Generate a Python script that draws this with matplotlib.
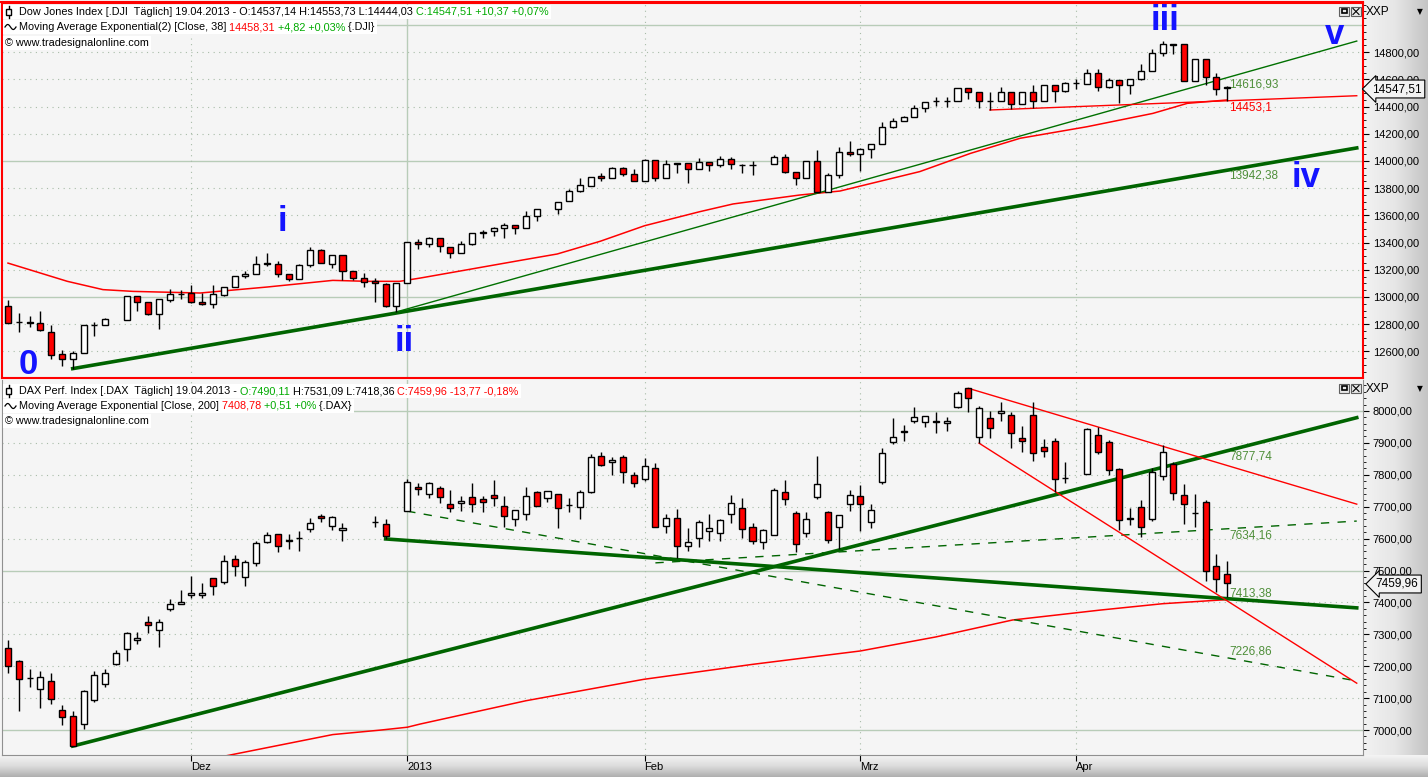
import numpy as np
import pandas as pd
import matplotlib
matplotlib.use("Agg")
import matplotlib.pyplot as plt
from matplotlib.ticker import MultipleLocator, FuncFormatter
from matplotlib.patches import Rectangle
from matplotlib.transforms import Bbox

plt.rcParams['font.family'] = ['Liberation Sans', 'DejaVu Sans']

W, H = 1428, 777

# ---------------- data
# union of trading days (both exchanges closed: Dec 25, Jan 1, Good Friday)
dates = pd.bdate_range('2012-11-08', '2013-04-19')
dates = dates.drop(pd.to_datetime(['2012-12-25', '2013-01-01', '2013-03-29']))
month_labels = ['Dez', '2013', 'Feb', 'Mrz', 'Apr']

N = None
dji_o = [12932, 12815, 12815, 12810, 12744, 12578, 12546, 12590, 12795, 12797,
         N, 12829, 13005, 12963, 12876, 12980, 13022, 13029, 12963, 12949,
         13017, 13073, 13151, 13171, 13248, 13241, 13168, 13132, 13232, 13346,
         13241, 13310, 13193, 13139, 13115, 13095, 12932, 13102, 13407, 13387,
         13431, 13370, 13326, 13387, 13468, 13485, 13505, 13529, 13505, 13596,
         N, 13645, 13708, 13779, 13818, 13890, 13873, 13946, 13902, 13855,
         14007, 13873, 13983, 13983, 13939, 13990, 13968, 14012, 13971, 13971,
         N, 13975, 14027, 13922, 13873, 14000, 13775, 13897, 14069, 14049,
         14086, 14123, 14248, 14294, 14321, 14387, 14444, 14441, 14444, 14534,
         14505, 14441, 14444, 14505, 14417, 14505, 14441, 14559, 14517, 14571,
         14564, 14650, 14542, 14596, 14559, 14603, 14664, 14792, 14858, 14858,
         14591, 14748, 14615, 14537.14]
dji_h = [12980, 12883, 12858, 12900, 12797, 12607, 12602, 12795, 12815, 12845,
         N, 13005, 13005, 12963, 12985, 13058, 13054, 13090, 13029, 13090,
         13073, 13151, 13188, 13302, 13327, 13266, 13168, 13244, 13364, 13354,
         13310, 13310, 13193, 13176, 13139, 13102, 13102, 13407, 13426, 13444,
         13431, 13370, 13412, 13470, 13493, 13517, 13542, 13529, 13632, 13645,
         N, 13701, 13792, 13873, 13885, 13909, 13958, 13958, 13939, 14014,
         14007, 14007, 13983, 13983, 14020, 13990, 14037, 14027, 13978, 14000,
         N, 14044, 14049, 13922, 14000, 14081, 13909, 14105, 14147, 14098,
         14123, 14284, 14314, 14331, 14412, 14436, 14473, 14468, 14534, 14534,
         14505, 14510, 14542, 14505, 14510, 14559, 14559, 14559, 14583, 14600,
         14676, 14676, 14608, 14596, 14603, 14711, 14821, 14882, 14858, 14858,
         14748, 14748, 14645, 14553.73]
dji_l = [12810, 12744, 12778, 12749, 12546, 12492, 12473, 12590, 12712, 12795,
         N, 12829, 12895, 12868, 12766, 12963, 12985, 12956, 12944, 12919,
         13010, 13073, 13139, 13171, 13229, 13146, 13115, 13132, 13224, 13249,
         13212, 13122, 13127, 13073, 12961, 12927, 12890, 13102, 13350, 13370,
         13333, 13289, 13321, 13382, 13431, 13451, 13436, 13461, 13505, 13561,
         N, 13613, 13708, 13775, 13818, 13855, 13873, 13892, 13855, 13855,
         13855, 13873, 13910, 13841, 13939, 13929, 13958, 13939, 13914, 13897,
         N, 13975, 13914, 13824, 13873, 13775, 13775, 13873, 14039, 13929,
         14025, 14123, 14240, 14294, 14321, 14363, 14404, 14400, 14444, 14456,
         14392, 14375, 14444, 14380, 14417, 14387, 14441, 14431, 14510, 14530,
         14564, 14517, 14534, 14429, 14490, 14596, 14664, 14775, 14784, 14591,
         14591, 14559, 14485, 14444.03]
dji_c = [12810, 12818, 12812, 12756, 12573, 12546, 12590, 12795, 12792, 12839,
         N, 13005, 12963, 12876, 12985, 13022, 13025, 12963, 12949, 13024,
         13073, 13151, 13171, 13241, 13245, 13171, 13132, 13237, 13346, 13249,
         13310, 13190, 13139, 13110, 13102, 12932, 13102, 13407, 13387, 13431,
         13377, 13321, 13387, 13468, 13480, 13505, 13529, 13505, 13596, 13645,
         N, 13701, 13779, 13824, 13885, 13873, 13946, 13902, 13855, 14007,
         13873, 13976, 13975, 13939, 13990, 13968, 14012, 13975, 13969, 13969,
         N, 14027, 13922, 13873, 14000, 13775, 13897, 14069, 14049, 14088,
         14123, 14248, 14294, 14321, 14387, 14436, 14441, 14444, 14534, 14505,
         14444, 14444, 14510, 14417, 14510, 14441, 14559, 14517, 14571, 14573,
         14650, 14542, 14596, 14559, 14603, 14664, 14792, 14858, 14855, 14591,
         14748, 14615, 14527, 14547.51]

dax_o = [7258, 7217, 7164, 7130, 7153, 7063, 7044, 7018, 7094, 7146,
         7208, 7255, 7283, 7339, 7315, 7380, 7396, 7424, 7424, 7477,
         7464, 7536, 7479, 7524, 7589, 7615, 7594, 7601, 7630, 7670,
         7639, 7627, N, N, 7651, 7646, N, 7685, 7761, 7739,
         7758, 7709, 7711, 7730, 7724, 7737, 7703, 7661, 7678, 7746,
         7727, 7739, 7704, 7698, 7745, 7858, 7840, 7855, 7800, 7787,
         7821, 7641, 7664, 7578, 7603, 7625, 7617, 7676, 7695, 7636,
         7589, 7610, 7746, 7680, 7617, 7730, 7682, 7637, 7710, 7733,
         7651, 7776, 7904, 7935, 7967, 7964, 7967, 7961, 8011, 8071,
         7919, 7977, 7993, 7987, 7914, 7987, 7886, 7906, 7791, N,
         7804, 7925, 7902, 7817, 7666, 7700, 7660, 7797, 7834, 7738,
         7679, 7715, 7515, 7490.11]
dax_h = [7283, 7221, 7193, 7184, 7180, 7078, 7060, 7127, 7184, 7193,
         7250, 7308, 7308, 7359, 7349, 7411, 7440, 7484, 7461, 7477,
         7550, 7549, 7533, 7591, 7622, 7615, 7615, 7625, 7665, 7677,
         7672, 7649, N, N, 7672, 7661, N, 7786, 7774, 7776,
         7765, 7753, 7734, 7774, 7734, 7784, 7734, 7689, 7763, 7750,
         7750, 7739, 7727, 7753, 7866, 7871, 7855, 7863, 7810, 7852,
         7837, 7676, 7692, 7633, 7659, 7677, 7662, 7737, 7727, 7648,
         7630, 7760, 7784, 7687, 7682, 7860, 7685, 7674, 7752, 7768,
         7708, 7883, 7979, 7956, 8012, 7984, 7996, 7982, 8061, 8071,
         8017, 8000, 8027, 7996, 7953, 8027, 7911, 7914, 7839, N,
         7946, 7951, 7909, 7822, 7695, 7721, 7820, 7893, 7841, 7771,
         7740, 7721, 7553, 7531.09]
dax_l = [7180, 7060, 7135, 7070, 7083, 7016, 6950, 7005, 7089, 7135,
         7203, 7217, 7271, 7304, 7260, 7373, 7394, 7415, 7414, 7422,
         7458, 7482, 7451, 7514, 7585, 7557, 7566, 7560, 7620, 7651,
         7628, 7592, N, N, 7635, 7599, N, 7685, 7737, 7727,
         7711, 7682, 7685, 7682, 7682, 7703, 7636, 7641, 7659, 7701,
         7716, 7632, 7682, 7661, 7742, 7829, 7798, 7774, 7763, 7782,
         7636, 7617, 7538, 7562, 7575, 7594, 7591, 7648, 7603, 7583,
         7567, 7610, 7706, 7557, 7604, 7724, 7587, 7569, 7687, 7624,
         7634, 7770, 7895, 7907, 7961, 7951, 7932, 7938, 8008, 7996,
         7899, 7916, 7970, 7885, 7872, 7844, 7857, 7747, 7775, N,
         7804, 7865, 7799, 7627, 7642, 7606, 7656, 7783, 7721, 7645,
         7637, 7468, 7433, 7418.36]
dax_c = [7201, 7161, 7162, 7165, 7099, 7040, 6950, 7122, 7172, 7180,
         7243, 7305, 7290, 7330, 7339, 7396, 7401, 7430, 7430, 7451,
         7531, 7514, 7528, 7586, 7611, 7576, 7596, 7603, 7649, 7665,
         7669, 7633, N, N, 7653, 7607, N, 7776, 7755, 7774,
         7730, 7695, 7717, 7708, 7714, 7727, 7672, 7689, 7734, 7701,
         7750, 7695, 7706, 7745, 7855, 7831, 7847, 7808, 7774, 7829,
         7636, 7664, 7578, 7588, 7651, 7632, 7659, 7711, 7629, 7591,
         7627, 7753, 7725, 7582, 7661, 7772, 7596, 7674, 7738, 7707,
         7689, 7867, 7917, 7937, 7982, 7984, 7965, 7969, 8055, 8040,
         8008, 7946, 8000, 7930, 7907, 7867, 7876, 7786, 7790, N,
         7942, 7872, 7815, 7658, 7660, 7635, 7808, 7870, 7742, 7710,
         7680, 7499, 7472, 7459.96]

# moving averages (bar index, value)
dji_ema_x = [0, 5.5, 8.8, 11.6, 17.8, 24, 30.1, 33.3, 36.3, 38.2, 47.7, 50.9,
             54.9, 59, 64.1, 67.2, 73.4, 77.1, 84.5, 89.2, 93.8, 100, 106.1, 109.3, 113]
dji_ema_v = [13249, 13115, 13054, 13041, 13029, 13073, 13122, 13115, 13115, 13139, 13272, 13316,
             13410, 13524, 13627, 13684, 13750, 13779, 13922, 14056, 14167, 14252, 14350, 14424, 14449]
dax_ema_x = [20, 30.1, 34.5, 37, 38.2, 48, 58.9, 69, 79, 86, 93.1, 101.2, 107, 113]
dax_ema_v = [6918, 6986, 7000, 7009, 7019, 7092, 7159, 7206, 7248, 7292, 7345, 7376, 7396, 7409]

# trend lines: ((x0, y0), (x1, y1))
dji_lines = {
    'thick': ((6, 12473), (125, 14096)),
    'thin': ((36, 12890), (125, 14882)),
    'red': ((91, 14375), (125, 14480)),
}
dax_lines = {
    'up': ((6, 6950), (125, 7979)),
    'down': ((35, 7599), (125, 7383)),
    'down_dash': ((37, 7686), (125, 7154)),
    'up_dash': ((60, 7524), (125, 7655)),
    'chan_top': ((89, 8071), (125, 7708)),
    'chan_bot': ((90, 7899), (125, 7147)),
}

# values printed at the right end of the lines
dji_line_labels = [('14616,93', 14559, '#4f8f3a'), ('14453,1', 14397, 'red'), ('13942,38', 13890, '#4f8f3a')]
dax_line_labels = [('7877,74', 7856, '#4f8f3a'), ('7634,16', 7611, '#4f8f3a'),
                   ('7413,38', 7429, '#4f8f3a'), ('7226,86', 7245, '#4f8f3a')]

wave_labels = [('0', 1.85, 12500), ('i', 25.4, 13556), ('ii', 36.7, 12670),
               ('iii', 107.2, 15030), ('iv', 120.3, 13880), ('v', 122.9, 14930)]

# ---------------- figure
fig = plt.figure(figsize=(W / 100, H / 100), dpi=100)
fig.patch.set_facecolor('#f5f5f5')

bg = fig.add_axes([0, 0, 1, 1], zorder=-5)
bg.set_xlim(0, W)
bg.set_ylim(H, 0)
bg.axis('off')
grad_h = np.linspace(0, 1, 64)[None, :]
bg.imshow(grad_h, extent=(1363, W, 755, 0), cmap=matplotlib.colors.LinearSegmentedColormap.from_list(
    'g', ['#f2f2f2', '#e6e6e6', '#c4c4c4']), aspect='auto', zorder=0)
grad_v = np.linspace(0, 1, 32)[:, None]
bg.imshow(grad_v, extent=(0, W, 777, 755), cmap=matplotlib.colors.LinearSegmentedColormap.from_list(
    'g2', ['#f4f4f4', '#dcdcdc', '#b0b0b0']), aspect='auto', zorder=0)


def fpos(x0, y0, x1, y1):
    return [x0 / W, 1 - y1 / H, (x1 - x0) / W, (y1 - y0) / H]


ax1 = fig.add_axes(fpos(2, 3, 1363, 378))
ax2 = fig.add_axes(fpos(2, 380, 1363, 755))

idx = np.arange(len(dates))
months = [i for i in range(1, len(dates)) if dates[i].month != dates[i - 1].month]

fmt = FuncFormatter(lambda v, p: f"{v:.2f}".replace('.', ','))


def candles(ax, o, h, l, c):
    o, h, l, c = (np.array(a, dtype=float) for a in (o, h, l, c))
    ok = ~np.isnan(o)
    x = idx[ok]
    o, h, l, c = o[ok], h[ok], l[ok], c[ok]
    ax.vlines(x, l, h, color='black', lw=1, zorder=4)
    cols = np.where(c < o, '#ff0000', 'white')
    ax.bar(x, np.abs(c - o), bottom=np.minimum(o, c), width=0.56, color=cols,
           edgecolor='black', linewidth=1, zorder=5)


def grid(ax, lo, hi, step, solid_step):
    for v in np.arange(lo, hi + 1, step):
        if v % solid_step == 0:
            ax.axhline(v, color='#b8ccb8', lw=1, zorder=1)
        else:
            ax.axhline(v, color='#a8bca8', lw=0.8, ls=(0, (1, 4)), zorder=1)
    for m in months:
        if dates[m].month == 1:
            ax.axvline(m, color='#b8ccb8', lw=1, zorder=1)
        else:
            ax.axvline(m, color='#a8bca8', lw=0.8, ls=(0, (1, 4)), zorder=1)


for ax in (ax1, ax2):
    ax.set_facecolor('#f5f5f5')
    ax.set_xlim(-0.556, 125.58)
    ax.yaxis.tick_right()
    ax.yaxis.set_major_formatter(fmt)
    ax.tick_params(axis='y', direction='out', length=4, pad=3, labelsize=8, colors='black')
    ax.tick_params(axis='y', which='minor', direction='out', length=2)

# top panel
ax1.set_ylim(12404, 15162)
grid(ax1, 12600, 15000, 200, 1000)
ax1.set_yticks(np.arange(12600, 14801, 200))
ax1.yaxis.set_minor_locator(MultipleLocator(50))
ax1.set_xticks([])
for s in ax1.spines.values():
    s.set_color('#ff0000')
    s.set_linewidth(1.5)

ax1.plot(dji_ema_x, dji_ema_v, color='#ff0000', lw=1.1, zorder=3)
(a, b) = dji_lines['thick']
ax1.plot([a[0], b[0]], [a[1], b[1]], color='#006400', lw=2.6, zorder=3)
(a, b) = dji_lines['thin']
ax1.plot([a[0], b[0]], [a[1], b[1]], color='#007000', lw=1, zorder=3)
(a, b) = dji_lines['red']
ax1.plot([a[0], b[0]], [a[1], b[1]], color='#ff0000', lw=1, zorder=3)
candles(ax1, dji_o, dji_h, dji_l, dji_c)
for txt, v, col in dji_line_labels:
    ax1.text(113.2, v, txt, color=col, fontsize=8.5, ha='left', va='center', zorder=6)
for txt, x, v in wave_labels:
    ax1.text(x, v, txt, color='#1414ff', fontsize=25, fontweight='bold', ha='center', va='center', zorder=6)

# bottom panel
ax2.set_ylim(6922, 8097)
grid(ax2, 7000, 8000, 100, 500)
ax2.set_yticks(np.arange(7000, 8001, 100))
ax2.yaxis.set_minor_locator(MultipleLocator(20))
ax2.set_xticks(months)
ax2.set_xticklabels(month_labels, ha='left')
ax2.tick_params(axis='x', direction='out', length=4, pad=1, labelsize=8)
for k in ('left', 'right', 'bottom'):
    ax2.spines[k].set_color('#909090')
ax2.spines['top'].set_visible(False)

ax2.plot(dax_ema_x, dax_ema_v, color='#ff0000', lw=1.1, zorder=3)
for key, (a, b) in dax_lines.items():
    if key in ('up', 'down'):
        ax2.plot([a[0], b[0]], [a[1], b[1]], color='#006400', lw=2.6, zorder=3)
    elif key.endswith('dash'):
        ax2.plot([a[0], b[0]], [a[1], b[1]], color='#006400', lw=1, ls=(0, (6, 6)), zorder=3)
    else:
        ax2.plot([a[0], b[0]], [a[1], b[1]], color='#ff0000', lw=1, zorder=3)
candles(ax2, dax_o, dax_h, dax_l, dax_c)
for txt, v, col in dax_line_labels:
    ax2.text(113.2, v, txt, color=col, fontsize=8.5, ha='left', va='center', zorder=6)

# ---------------- overlay (headers, buttons, price tags)
ov = fig.add_axes([0, 0, 1, 1], zorder=10)
ov.set_xlim(0, W)
ov.set_ylim(H, 0)
ov.axis('off')
ov.patch.set_alpha(0)

GREEN = '#00aa00'
header_lines = []


def header(x, y, parts):
    t = ov.text(x, y, parts[0][0], color=parts[0][1], fontsize=7.8, ha='left', va='center', zorder=3)
    segs = [t]
    for s, c in parts[1:]:
        t = ov.annotate(s, xy=(1, 0.5), xycoords=t, color=c, fontsize=7.8, ha='left', va='center', zorder=3)
        segs.append(t)
    header_lines.append((x, y, segs))


def candle_icon(y):
    ov.add_patch(Rectangle((3, y - 7), 16, 14, fc='white', ec='none', zorder=2))
    ov.plot([8.5, 8.5], [y - 6, y + 6], color='black', lw=1, zorder=3)
    ov.add_patch(Rectangle((6, y - 3), 5, 6, fc='white', ec='black', lw=1, zorder=3))


def wave_icon(y):
    ov.add_patch(Rectangle((3, y - 7), 16, 14, fc='white', ec='none', zorder=2))
    xs = np.linspace(5, 16, 30)
    ov.plot(xs, y - 2.5 * np.sin((xs - 5) / 11 * 2 * np.pi), color='black', lw=0.9, zorder=3)


def buttons(y):
    for x0 in (1339, 1351):
        ov.add_patch(Rectangle((x0, y), 10, 9, fc='#e8e8e8', ec='#606060', lw=0.8))
    ov.add_patch(Rectangle((1341.5, y + 2), 5, 4, fc='none', ec='black', lw=1.2))
    ov.plot([1353, 1359], [y + 1.5, y + 7.5], color='black', lw=0.8)
    ov.plot([1353, 1359], [y + 7.5, y + 1.5], color='black', lw=0.8)


candle_icon(12)
header(19, 12, [("Dow Jones Index [.DJI  Täglich] 19.04.2013 - O:14537,14 H:14553,73 L:14444,03", 'black'),
                (" C:14547,51 +10,37 +0,07%", GREEN)])
wave_icon(27)
header(19, 27, [("Moving Average Exponential(2) [Close, 38]", 'black'), (" 14458,31", '#ff0000'),
                (" +4,82 +0,03%", GREEN), (" {.DJI}", 'black')])
header(5, 43, [("© www.tradesignalonline.com", 'black')])

candle_icon(391)
header(19, 391, [("DAX Perf. Index [.DAX  Täglich] 19.04.2013 -", 'black'), (" O:7490,11", GREEN),
                 (" H:7531,09 L:7418,36", 'black'), (" C:7459,96 -13,77 -0,18%", '#ff0000')])
wave_icon(406)
header(19, 406, [("Moving Average Exponential [Close, 200]", 'black'), (" 7408,78", '#ff0000'),
                 (" +0,51 +0%", GREEN), (" {.DAX}", 'black')])
header(5, 421, [("© www.tradesignalonline.com", 'black')])

# white strip behind every header line
fig.canvas.draw()
rend = fig.canvas.get_renderer()
inv = ov.transData.inverted()
for x, y, segs in header_lines:
    bb = Bbox.union([s.get_window_extent(rend) for s in segs])
    (px0, py0), (px1, py1) = inv.transform([(bb.x0, bb.y0), (bb.x1, bb.y1)])
    x0 = min(px0, x) - 2
    ov.add_patch(Rectangle((x0, y - 7), px1 - x0 + 2, 14, fc='white', ec='none', zorder=2))

buttons(7)
buttons(384)
for y in (12, 389):
    ov.text(1366, y, "XXP", fontsize=8.5, ha='left', va='center')
    ov.text(1420, y, "▼", fontsize=5.5, ha='center', va='center', family='DejaVu Sans')

arrow_box = dict(boxstyle='larrow,pad=0.25', fc='#f2f2f2', ec='black', lw=0.8)
ov.text(1397, 89, "14547,51", fontsize=8.5, ha='center', va='center', bbox=arrow_box)
ov.text(1397, 584, "7459,96", fontsize=8.5, ha='center', va='center', bbox=arrow_box)

ov.plot([0, 1363], [2, 2], color='#ff0000', lw=1.5)

fig.savefig("out.png", dpi=100, facecolor=fig.get_facecolor())
